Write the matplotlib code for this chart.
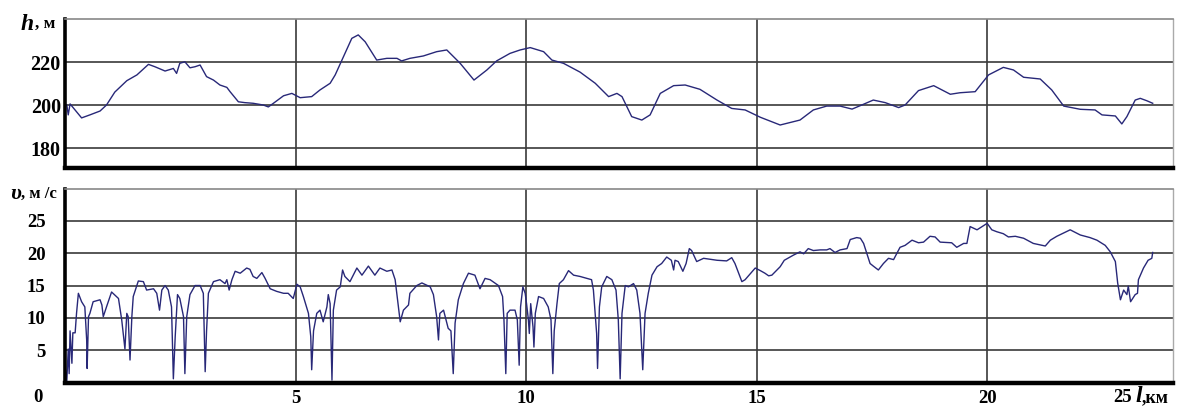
import matplotlib
matplotlib.use("Agg")
import matplotlib.pyplot as plt

# distance along the route, km / altitude, m
h_km = [0.04, 0.07, 0.11, 0.36, 0.54, 0.76, 0.90, 1.08, 1.34, 1.56, 1.81, 1.95, 2.17, 2.35,
        2.42, 2.49, 2.60, 2.71, 2.82, 2.93, 3.07, 3.22, 3.36, 3.51, 3.58, 3.76, 3.90, 4.08,
        4.30, 4.41, 4.52, 4.74, 4.92, 5.10, 5.35, 5.53, 5.75, 5.86, 6.04, 6.22, 6.36, 6.51,
        6.76, 6.98, 7.20, 7.30, 7.48, 7.77, 8.06, 8.28, 8.57, 8.87, 9.15, 9.36, 9.65, 9.87,
        10.09, 10.38, 10.56, 10.81, 11.17, 11.50, 11.79, 11.97, 12.08, 12.29, 12.51, 12.69,
        12.91, 13.20, 13.45, 13.77, 14.14, 14.46, 14.75, 15.08, 15.51, 15.94, 16.23, 16.52,
        16.81, 17.07, 17.28, 17.53, 17.79, 18.08, 18.22, 18.51, 18.84, 19.20, 19.41, 19.74,
        20.03, 20.35, 20.57, 20.79, 21.15, 21.40, 21.66, 22.02, 22.34, 22.49, 22.78, 22.92,
        23.03, 23.21, 23.32, 23.46, 23.59]
h_m = [200, 195.4, 200.5, 194, 195.4, 197.2, 200, 206, 211.3, 214, 218.9, 217.8, 215.8, 217,
       214.7, 219.4, 220.1, 217.3, 217.8, 218.6, 213.2, 211.6, 209.3, 208.2, 206.2, 201.5,
       201.1, 200.8, 200, 199.1, 200.8, 204.3, 205.4, 203.4, 203.9, 207, 210.1, 214, 222.5,
       231, 232.6, 229.4, 220.9, 221.7, 221.7, 220.5, 221.7, 222.8, 224.8, 225.6, 219.4,
       211.6, 216.3, 220.5, 224, 225.6, 226.7, 224.8, 220.9, 219.4, 215.3, 210.1, 203.9,
       205.4, 203.9, 194.6, 193, 195.4, 205.4, 209, 209.3, 207.3, 202.3, 198.4, 197.7, 194.3,
       190.7, 193, 197.7, 199.5, 199.5, 198.1, 200, 202.3, 201.1, 198.8, 200, 206.7, 209,
       205, 205.7, 206.2, 214, 217.5, 216.3, 212.9, 212.1, 207, 199.5, 198, 197.7, 195.4,
       194.9, 191.2, 194.6, 202.3, 203.1, 202, 200.8]

# distance, km / speed, m/s
v_km = [0.00, 0.04, 0.07, 0.09, 0.11, 0.15, 0.17, 0.22, 0.25, 0.29, 0.36, 0.43, 0.47, 0.48,
        0.51, 0.54, 0.61, 0.76, 0.80, 0.83, 0.90, 1.01, 1.16, 1.23, 1.30, 1.34, 1.37, 1.41,
        1.45, 1.48, 1.59, 1.70, 1.77, 1.92, 1.99, 2.05, 2.10, 2.17, 2.24, 2.31, 2.35, 2.39,
        2.44, 2.49, 2.57, 2.60, 2.64, 2.71, 2.82, 2.93, 3.00, 3.04, 3.07, 3.11, 3.22, 3.36,
        3.47, 3.51, 3.56, 3.62, 3.69, 3.80, 3.94, 4.01, 4.08, 4.16, 4.27, 4.34, 4.45, 4.59,
        4.74, 4.84, 4.95, 5.03, 5.10, 5.17, 5.28, 5.33, 5.35, 5.39, 5.46, 5.53, 5.60, 5.68,
        5.71, 5.75, 5.79, 5.82, 5.89, 5.97, 6.02, 6.07, 6.18, 6.33, 6.44, 6.58, 6.72, 6.83,
        6.98, 7.09, 7.16, 7.23, 7.27, 7.34, 7.45, 7.48, 7.63, 7.74, 7.92, 7.99, 8.06, 8.10,
        8.13, 8.21, 8.28, 8.31, 8.37, 8.42, 8.46, 8.53, 8.64, 8.75, 8.89, 9.00, 9.11, 9.22,
        9.40, 9.49, 9.52, 9.56, 9.59, 9.65, 9.76, 9.81, 9.85, 9.88, 9.93, 9.98, 10.01, 10.05,
        10.07, 10.10, 10.15, 10.17, 10.20, 10.27, 10.38, 10.48, 10.54, 10.58, 10.61, 10.67,
        10.72, 10.81, 10.92, 11.03, 11.17, 11.42, 11.46, 11.53, 11.55, 11.59, 11.64, 11.75,
        11.86, 11.95, 12.00, 12.04, 12.08, 12.15, 12.22, 12.33, 12.40, 12.47, 12.53, 12.58,
        12.65, 12.73, 12.84, 12.94, 13.05, 13.15, 13.20, 13.23, 13.30, 13.40, 13.47, 13.54,
        13.59, 13.70, 13.85, 14.14, 14.35, 14.46, 14.53, 14.68, 14.75, 14.97, 15.08, 15.18,
        15.26, 15.33, 15.51, 15.60, 15.80, 15.94, 16.02, 16.12, 16.23, 16.38, 16.52, 16.59,
        16.70, 16.81, 16.96, 17.03, 17.17, 17.25, 17.32, 17.46, 17.53, 17.64, 17.75, 17.86,
        17.97, 18.11, 18.22, 18.37, 18.51, 18.62, 18.76, 18.87, 18.98, 19.23, 19.34, 19.49,
        19.56, 19.63, 19.78, 19.89, 20.00, 20.10, 20.21, 20.35, 20.46, 20.61, 20.79, 21.00,
        21.26, 21.37, 21.51, 21.80, 22.02, 22.23, 22.38, 22.56, 22.67, 22.78, 22.83, 22.89,
        22.96, 23.03, 23.06, 23.11, 23.21, 23.26, 23.28, 23.39, 23.49, 23.57, 23.59]
v_ms = [2.5, 0.3, 5.2, 1.4, 8.0, 3.0, 7.7, 7.7, 10.7, 13.8, 12.5, 11.7, 6.6, 2.2,
        10.2, 10.7, 12.5, 12.8, 12.0, 10.2, 11.7, 14.0, 13.0, 9.7, 5.2, 10.7, 10.2, 3.5,
        10.2, 13.3, 15.7, 15.6, 14.3, 14.5, 13.8, 11.2, 14.3, 15.0, 14.3, 11.7, 0.6, 7.1,
        13.6, 13.0, 10.2, 1.4, 10.2, 13.6, 15.0, 15.0, 13.8, 1.7, 8.0, 13.8, 15.6, 15.9,
        15.3, 15.9, 14.3, 15.9, 17.2, 16.9, 17.7, 17.5, 16.4, 16.1, 17.0, 16.1, 14.5, 14.1,
        13.8, 13.8, 13.0, 15.2, 14.8, 13.3, 10.7, 7.1, 2.0, 8.0, 10.7, 11.2, 9.4, 11.7,
        13.6, 12.2, 0.4, 11.2, 14.3, 14.8, 17.4, 16.4, 15.6, 17.7, 16.6, 18.0, 16.6, 17.7,
        17.2, 17.4, 15.9, 11.7, 9.4, 11.2, 12.0, 13.8, 15.0, 15.4, 14.8, 13.6, 10.2, 6.6,
        10.7, 11.2, 9.2, 8.4, 8.0, 1.4, 9.2, 12.8, 15.3, 16.9, 16.6, 14.5, 16.1, 15.9,
        15.0, 13.3, 9.7, 1.4, 10.7, 11.2, 11.2, 9.7, 2.7, 11.7, 14.8, 13.8, 12.2, 9.7,
        7.6, 12.2, 8.6, 5.5, 10.7, 13.3, 13.0, 11.7, 9.7, 1.4, 8.0, 12.2,
        15.3, 15.9, 17.3, 16.6, 16.4, 15.9, 14.3, 7.6, 2.2, 11.7, 14.8, 16.4,
        15.9, 14.3, 9.7, 0.6, 10.7, 15.0, 14.8, 15.3, 14.3, 10.7, 2.0, 10.7,
        13.8, 16.6, 17.9, 18.4, 19.4, 18.9, 17.4, 18.9, 18.7, 17.2, 18.4, 20.7,
        20.4, 18.7, 19.2, 18.9, 18.8, 19.3, 18.4, 15.6, 15.9, 17.7, 17.3, 16.9,
        16.5, 16.6, 17.9, 18.9, 19.7, 20.2, 19.9, 20.7, 20.4, 20.5, 20.5, 20.7,
        20.1, 20.5, 20.7, 22.1, 22.4, 22.3, 21.5, 18.4, 18.0, 17.4, 18.4, 19.2,
        19.0, 20.9, 21.2, 22.0, 21.6, 21.7, 22.6, 22.5, 21.7, 21.6, 20.9, 21.5,
        21.5, 24.1, 23.6, 24.1, 24.6, 23.6, 23.3, 23.0, 22.5, 22.6, 22.3, 21.5,
        21.1, 22.0, 22.6, 23.6, 22.8, 22.4, 22.0, 21.2, 20.2, 18.7, 15.4, 12.8,
        14.3, 13.6, 14.9, 12.5, 13.6, 13.8, 15.9, 17.7, 18.9, 19.2, 20.1]

x_ticks = [5, 10, 15, 20]
h_ticks = [180, 200, 220]
v_ticks = [5, 10, 15, 20, 25]

line_col = '#282878'
grid_col = '#3a3a3a'
serif = 'Liberation Serif'

fig = plt.figure(figsize=(11.77, 4.07), dpi=100)
W, H = 1177.0, 407.0
ax1 = fig.add_axes([65 / W, 1 - 168 / H, 1108 / W, 149 / H])
ax2 = fig.add_axes([65 / W, 1 - 382.7 / H, 1108 / W, 193.7 / H])

for ax in (ax1, ax2):
    ax.set_xlim(0, 24.03)
    ax.set_xticks(x_ticks)
    ax.grid(True, color=grid_col, linewidth=1.2)
    ax.set_axisbelow(True)
    ax.spines['left'].set_linewidth(2.6)
    ax.spines['bottom'].set_linewidth(3.2)
    ax.spines['top'].set_color('#888888')
    ax.spines['right'].set_color('#aaaaaa')
    ax.spines['top'].set_linewidth(1.2)
    ax.spines['right'].set_linewidth(1.0)
    ax.tick_params(length=0)

ax1.plot(h_km, h_m, color=line_col, linewidth=1.0)
ax1.set_ylim(170.7, 240.0)
ax1.set_yticks(h_ticks)
ax1.set_yticklabels([str(t) for t in h_ticks], family=serif, weight='bold', fontsize=14.5)
ax1.set_xticklabels([])
ax1.tick_params(axis='y', pad=3)

ax2.plot(v_km, v_ms, color=line_col, linewidth=1.0)
ax2.set_ylim(0, 29.9)
ax2.set_yticks(v_ticks)
ax2.set_yticklabels([str(t) for t in v_ticks], family=serif, weight='bold', fontsize=13.5)
ax2.set_xticklabels([str(t) for t in x_ticks], family=serif, weight='bold', fontsize=13.5)
ax2.tick_params(axis='y', pad=14)
ax2.tick_params(axis='x', pad=5)

# axis captions
fig.text(21 / W, 1 - 24 / H, 'h', family=serif, style='italic', weight='bold',
         fontsize=17, va='center', ha='left')
fig.text(35 / W, 1 - 24 / H, ', м', family=serif, weight='bold',
         fontsize=12.5, va='center', ha='left')
fig.text(10 / W, 1 - 194 / H, 'υ', family=serif, style='italic', weight='bold',
         fontsize=16, va='center', ha='left')
fig.text(21 / W, 1 - 194 / H, ', м /с', family=serif, weight='bold',
         fontsize=12, va='center', ha='left')
fig.text(38 / W, 1 - 398 / H, '0', family=serif, weight='bold',
         fontsize=13.5, va='center', ha='center')
fig.text(1113 / W, 1 - 398 / H, '25', family=serif, weight='bold',
         fontsize=13.5, va='center', ha='left')
fig.text(1135 / W, 1 - 397 / H, 'l', family=serif, style='italic', weight='bold',
         fontsize=17, va='center', ha='left')
fig.text(1142 / W, 1 - 398 / H, ',км', family=serif, weight='bold',
         fontsize=13, va='center', ha='left')

fig.savefig('out.png', dpi=100, facecolor='white')
